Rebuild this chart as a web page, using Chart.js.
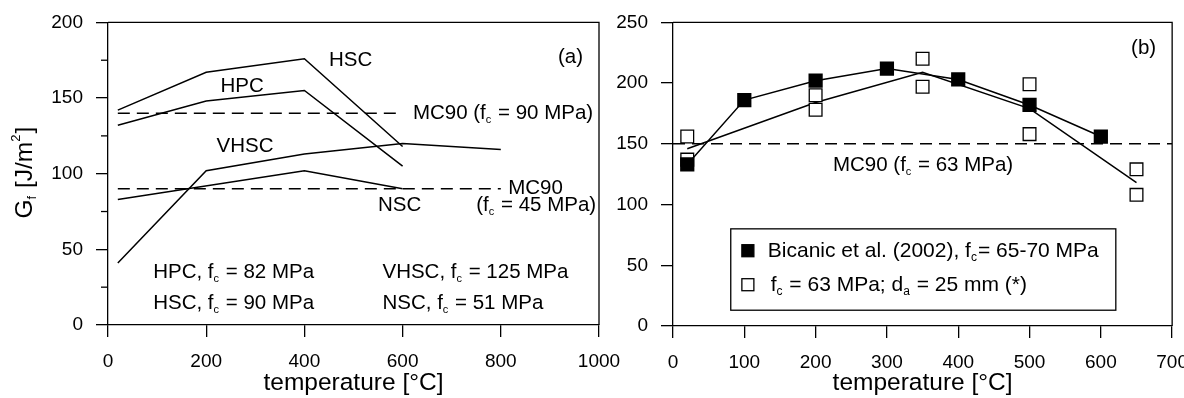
<!DOCTYPE html>
<html lang="en">
<head>
  <meta charset="UTF-8" />
  <title>Fracture energy vs temperature</title>
  <style>
    body { margin: 0; background: #fff; }
    .wrap { position: relative; width: 1184px; height: 398px; overflow: hidden; }
    #chartA { position: absolute; left: 0; top: -2px; }
    #chartB { position: absolute; left: 610px; top: -2px; }
  </style>
</head>
<body>
  <div class="wrap">
    <canvas id="chartA" width="640" height="400"></canvas>
    <canvas id="chartB" width="591" height="400"></canvas>
  </div>

  <script src="https://cdn.jsdelivr.net/npm/chart.js"></script>
  <script>
    // ---- panel (a) data ----
    const hscT = [20, 200, 400, 600];
    const hscG = [142, 167, 176, 118];
    const hpcT = [20, 200, 400, 600];
    const hpcG = [132, 148, 155, 105];
    const vhscT = [20, 200, 400, 600, 800];
    const vhscG = [41, 102, 113, 120, 116];
    const nscT = [20, 400, 600];
    const nscG = [83, 102, 90];
    const mc90hT = [20, 600];
    const mc90hG = [140, 140];
    const mc90lT = [20, 800];
    const mc90lG = [90, 90];
    const xTicksA = [0, 200, 400, 600, 800, 1000];
    const yTicksA = [0, 50, 100, 150, 200];
    const yMinorA = [25, 75, 125, 175];

    // ---- panel (b) data ----
    const bicT = [20, 100, 200, 300, 400, 500, 600];
    const bicG = [133, 186, 202, 212, 203, 182, 156];
    const ownT = [20, 20, 200, 200, 350, 350, 500, 500, 650, 650];
    const ownG = [156, 137, 190, 178, 220, 197, 199, 158, 129, 108];
    const ownMeanT = [20, 200, 350, 500, 650];
    const ownMeanG = [146, 184, 209, 179, 118];
    const mc90bT = [0, 700];
    const mc90bG = [150, 150];
    const xTicksB = [0, 100, 200, 300, 400, 500, 600, 700];
    const yTicksB = [0, 50, 100, 150, 200, 250];

    const FAMILY = '"Liberation Sans", Arial, sans-serif';
    const TICK_SIZE = 19;
    const TEXT_SIZE = 20.5;
    const LEGEND_SIZE = 21;
    const TITLE_SIZE = 24.5;

    function pts(xs, ys) {
      return xs.map((x, i) => ({ x: x, y: ys[i] }));
    }

    // text with sub/superscripts: parts = [[text, 'sub'|'sup'|''], ...]
    function richText(ctx, parts, x, y, align, size) {
      const big = size + 'px ' + FAMILY;
      const small = Math.round(size * 0.55) + 'px ' + FAMILY;
      let w = 0;
      parts.forEach(p => { ctx.font = p[1] ? small : big; w += ctx.measureText(p[0]).width; });
      let cx = align === 'center' ? x - w / 2 : (align === 'right' ? x - w : x);
      ctx.textAlign = 'left';
      ctx.textBaseline = 'middle';
      ctx.fillStyle = '#000';
      parts.forEach(p => {
        ctx.font = p[1] ? small : big;
        let dy = 0;
        if (p[1] === 'sub') dy = size * 0.32;
        if (p[1] === 'sup') dy = -size * 0.35;
        ctx.fillText(p[0], cx, y + dy);
        cx += ctx.measureText(p[0]).width + (p[1] ? 1 : 0);
      });
    }

    function frame(chart) {
      const a = chart.chartArea;
      const ctx = chart.ctx;
      ctx.save();
      ctx.strokeStyle = '#000';
      ctx.lineWidth = 1.3;
      ctx.beginPath();
      ctx.moveTo(a.left, a.top);
      ctx.lineTo(a.right, a.top);
      ctx.lineTo(a.right, a.bottom);
      ctx.stroke();
      ctx.restore();
    }

    function yTitle(chart, cx) {
      const ctx = chart.ctx;
      const a = chart.chartArea;
      ctx.save();
      ctx.translate(cx, (a.top + a.bottom) / 2);
      ctx.rotate(-Math.PI / 2);
      richText(ctx, [['G', ''], ['f', 'sub'], [' [J/m', ''], ['2', 'sup'], [']', '']], 0, 0, 'center', TITLE_SIZE);
      ctx.restore();
    }

    function axes(xTicks, yTicks, yWidth, xHeight) {
      const tickFont = { family: FAMILY, size: TICK_SIZE };
      return {
        x: {
          type: 'linear',
          min: xTicks[0],
          max: xTicks[xTicks.length - 1],
          afterBuildTicks: s => { s.ticks = xTicks.map(v => ({ value: v })); },
          afterFit: s => { s.height = xHeight; },
          ticks: { color: '#000', font: tickFont, padding: 13, maxRotation: 0, callback: v => String(v) },
          grid: { drawOnChartArea: false, tickLength: 12, color: '#000', lineWidth: 1.3 },
          border: { color: '#000', width: 1.3 },
          title: {
            display: true, text: 'temperature [°C]', color: '#000',
            font: { family: FAMILY, size: TITLE_SIZE }, padding: { top: 0, bottom: 0 }
          }
        },
        y: {
          type: 'linear',
          min: yTicks[0],
          max: yTicks[yTicks.length - 1],
          afterBuildTicks: s => { s.ticks = yTicks.map(v => ({ value: v })); },
          afterFit: s => { s.width = yWidth; },
          ticks: { color: '#000', font: tickFont, padding: 13, callback: v => String(v) },
          grid: { drawOnChartArea: false, tickLength: 12, color: '#000', lineWidth: 1.3 },
          border: { color: '#000', width: 1.3 }
        }
      };
    }

    function line(data, dash) {
      return {
        data: data, showLine: true, borderColor: '#000', borderWidth: 1.5,
        borderDash: dash || [], pointRadius: 0, fill: false, tension: 0
      };
    }

    // ---- panel (a) ----
    const notesA = [
      { at: [494, 175], align: 'center', parts: [['HSC', '']] },
      { at: [273, 158], align: 'center', parts: [['HPC', '']] },
      { at: [279, 118], align: 'center', parts: [['VHSC', '']] },
      { at: [594, 79], align: 'center', parts: [['NSC', '']] },
      { at: [942, 177], align: 'center', parts: [['(a)', '']] },
      { at: [621, 140], align: 'left', parts: [['MC90 (f', ''], ['c', 'sub'], [' = 90 MPa)', '']] },
      { at: [815, 90], align: 'left', parts: [['MC90', '']] },
      { at: [750, 79], align: 'left', parts: [['(f', ''], ['c', 'sub'], [' = 45 MPa)', '']] },
      { at: [92, 35], align: 'left', parts: [['HPC, f', ''], ['c', 'sub'], [' = 82 MPa', '']] },
      { at: [92, 14], align: 'left', parts: [['HSC, f', ''], ['c', 'sub'], [' = 90 MPa', '']] },
      { at: [559, 35], align: 'left', parts: [['VHSC, f', ''], ['c', 'sub'], [' = 125 MPa', '']] },
      { at: [559, 14], align: 'left', parts: [['NSC, f', ''], ['c', 'sub'], [' = 51 MPa', '']] }
    ];

    const decoA = {
      id: 'decoA',
      afterDraw(chart) {
        const ctx = chart.ctx;
        const sx = chart.scales.x, sy = chart.scales.y;
        frame(chart);
        ctx.save();
        ctx.strokeStyle = '#000';
        ctx.lineWidth = 1.3;
        yMinorA.forEach(v => {
          const py = sy.getPixelForValue(v);
          ctx.beginPath();
          ctx.moveTo(sx.left - 7, py);
          ctx.lineTo(sx.left, py);
          ctx.stroke();
        });
        notesA.forEach(n => {
          richText(ctx, n.parts, sx.getPixelForValue(n.at[0]), sy.getPixelForValue(n.at[1]), n.align, TEXT_SIZE);
        });
        yTitle(chart, 25);
        ctx.restore();
      }
    };

    new Chart(document.getElementById('chartA'), {
      type: 'scatter',
      data: {
        datasets: [
          line(pts(hscT, hscG)),
          line(pts(hpcT, hpcG)),
          line(pts(vhscT, vhscG)),
          line(pts(nscT, nscG)),
          line(pts(mc90hT, mc90hG), [12, 7]),
          line(pts(mc90lT, mc90lG), [12, 7])
        ]
      },
      options: {
        responsive: false,
        animation: false,
        layout: { padding: { top: 22, right: 41, bottom: 0, left: 0 } },
        plugins: { legend: { display: false }, tooltip: { enabled: false } },
        scales: axes(xTicksA, yTicksA, 108, 73)
      },
      plugins: [decoA]
    });

    // ---- panel (b) ----
    const notesB = [
      { at: [350, 132], align: 'center', parts: [['MC90 (f', ''], ['c', 'sub'], [' = 63 MPa)', '']] },
      { at: [660, 229], align: 'center', parts: [['(b)', '']] }
    ];
    const legendB = {
      box: [81, 80, 621, 13],
      items: [
        { at: [105, 62], textAt: 133, filled: true,
          parts: [['Bicanic et al. (2002), f', ''], ['c', 'sub'], ['= 65-70 MPa', '']] },
        { at: [105, 34], textAt: 137, filled: false,
          parts: [['f', ''], ['c', 'sub'], [' = 63 MPa; d', ''], ['a', 'sub'], [' = 25 mm (*)', '']] }
      ]
    };

    const decoB = {
      id: 'decoB',
      afterDraw(chart) {
        const ctx = chart.ctx;
        const sx = chart.scales.x, sy = chart.scales.y;
        frame(chart);
        ctx.save();
        notesB.forEach(n => {
          richText(ctx, n.parts, sx.getPixelForValue(n.at[0]), sy.getPixelForValue(n.at[1]), n.align, TEXT_SIZE);
        });
        const b = legendB.box;
        const x0 = sx.getPixelForValue(b[0]), y0 = sy.getPixelForValue(b[1]);
        const x1 = sx.getPixelForValue(b[2]), y1 = sy.getPixelForValue(b[3]);
        ctx.fillStyle = '#fff';
        ctx.fillRect(x0, y0, x1 - x0, y1 - y0);
        ctx.strokeStyle = '#000';
        ctx.lineWidth = 1.3;
        ctx.strokeRect(x0, y0, x1 - x0, y1 - y0);
        legendB.items.forEach(it => {
          const px = sx.getPixelForValue(it.at[0]), py = sy.getPixelForValue(it.at[1]);
          ctx.fillStyle = it.filled ? '#000' : '#fff';
          ctx.fillRect(px - 6, py - 6, 12, 12);
          ctx.strokeStyle = '#000';
          ctx.strokeRect(px - 6, py - 6, 12, 12);
          richText(ctx, it.parts, sx.getPixelForValue(it.textAt), py, 'left', LEGEND_SIZE);
        });
        ctx.restore();
      }
    };

    new Chart(document.getElementById('chartB'), {
      type: 'scatter',
      data: {
        datasets: [
          {
            data: pts(bicT, bicG), showLine: true, borderColor: '#000', borderWidth: 1.5,
            pointStyle: 'rect', pointRadius: 9, pointBackgroundColor: '#000', pointBorderColor: '#000'
          },
          {
            data: pts(ownT, ownG), showLine: false, pointStyle: 'rect', pointRadius: 9,
            pointBackgroundColor: '#fff', pointBorderColor: '#000', pointBorderWidth: 1.3
          },
          line(pts(ownMeanT, ownMeanG)),
          line(pts(mc90bT, mc90bG), [12, 7])
        ]
      },
      options: {
        responsive: false,
        animation: false,
        layout: { padding: { top: 22, right: 20, bottom: 0, left: 0 } },
        plugins: { legend: { display: false }, tooltip: { enabled: false } },
        scales: axes(xTicksB, yTicksB, 63, 72)
      },
      plugins: [decoB]
    });
  </script>
</body>
</html>
